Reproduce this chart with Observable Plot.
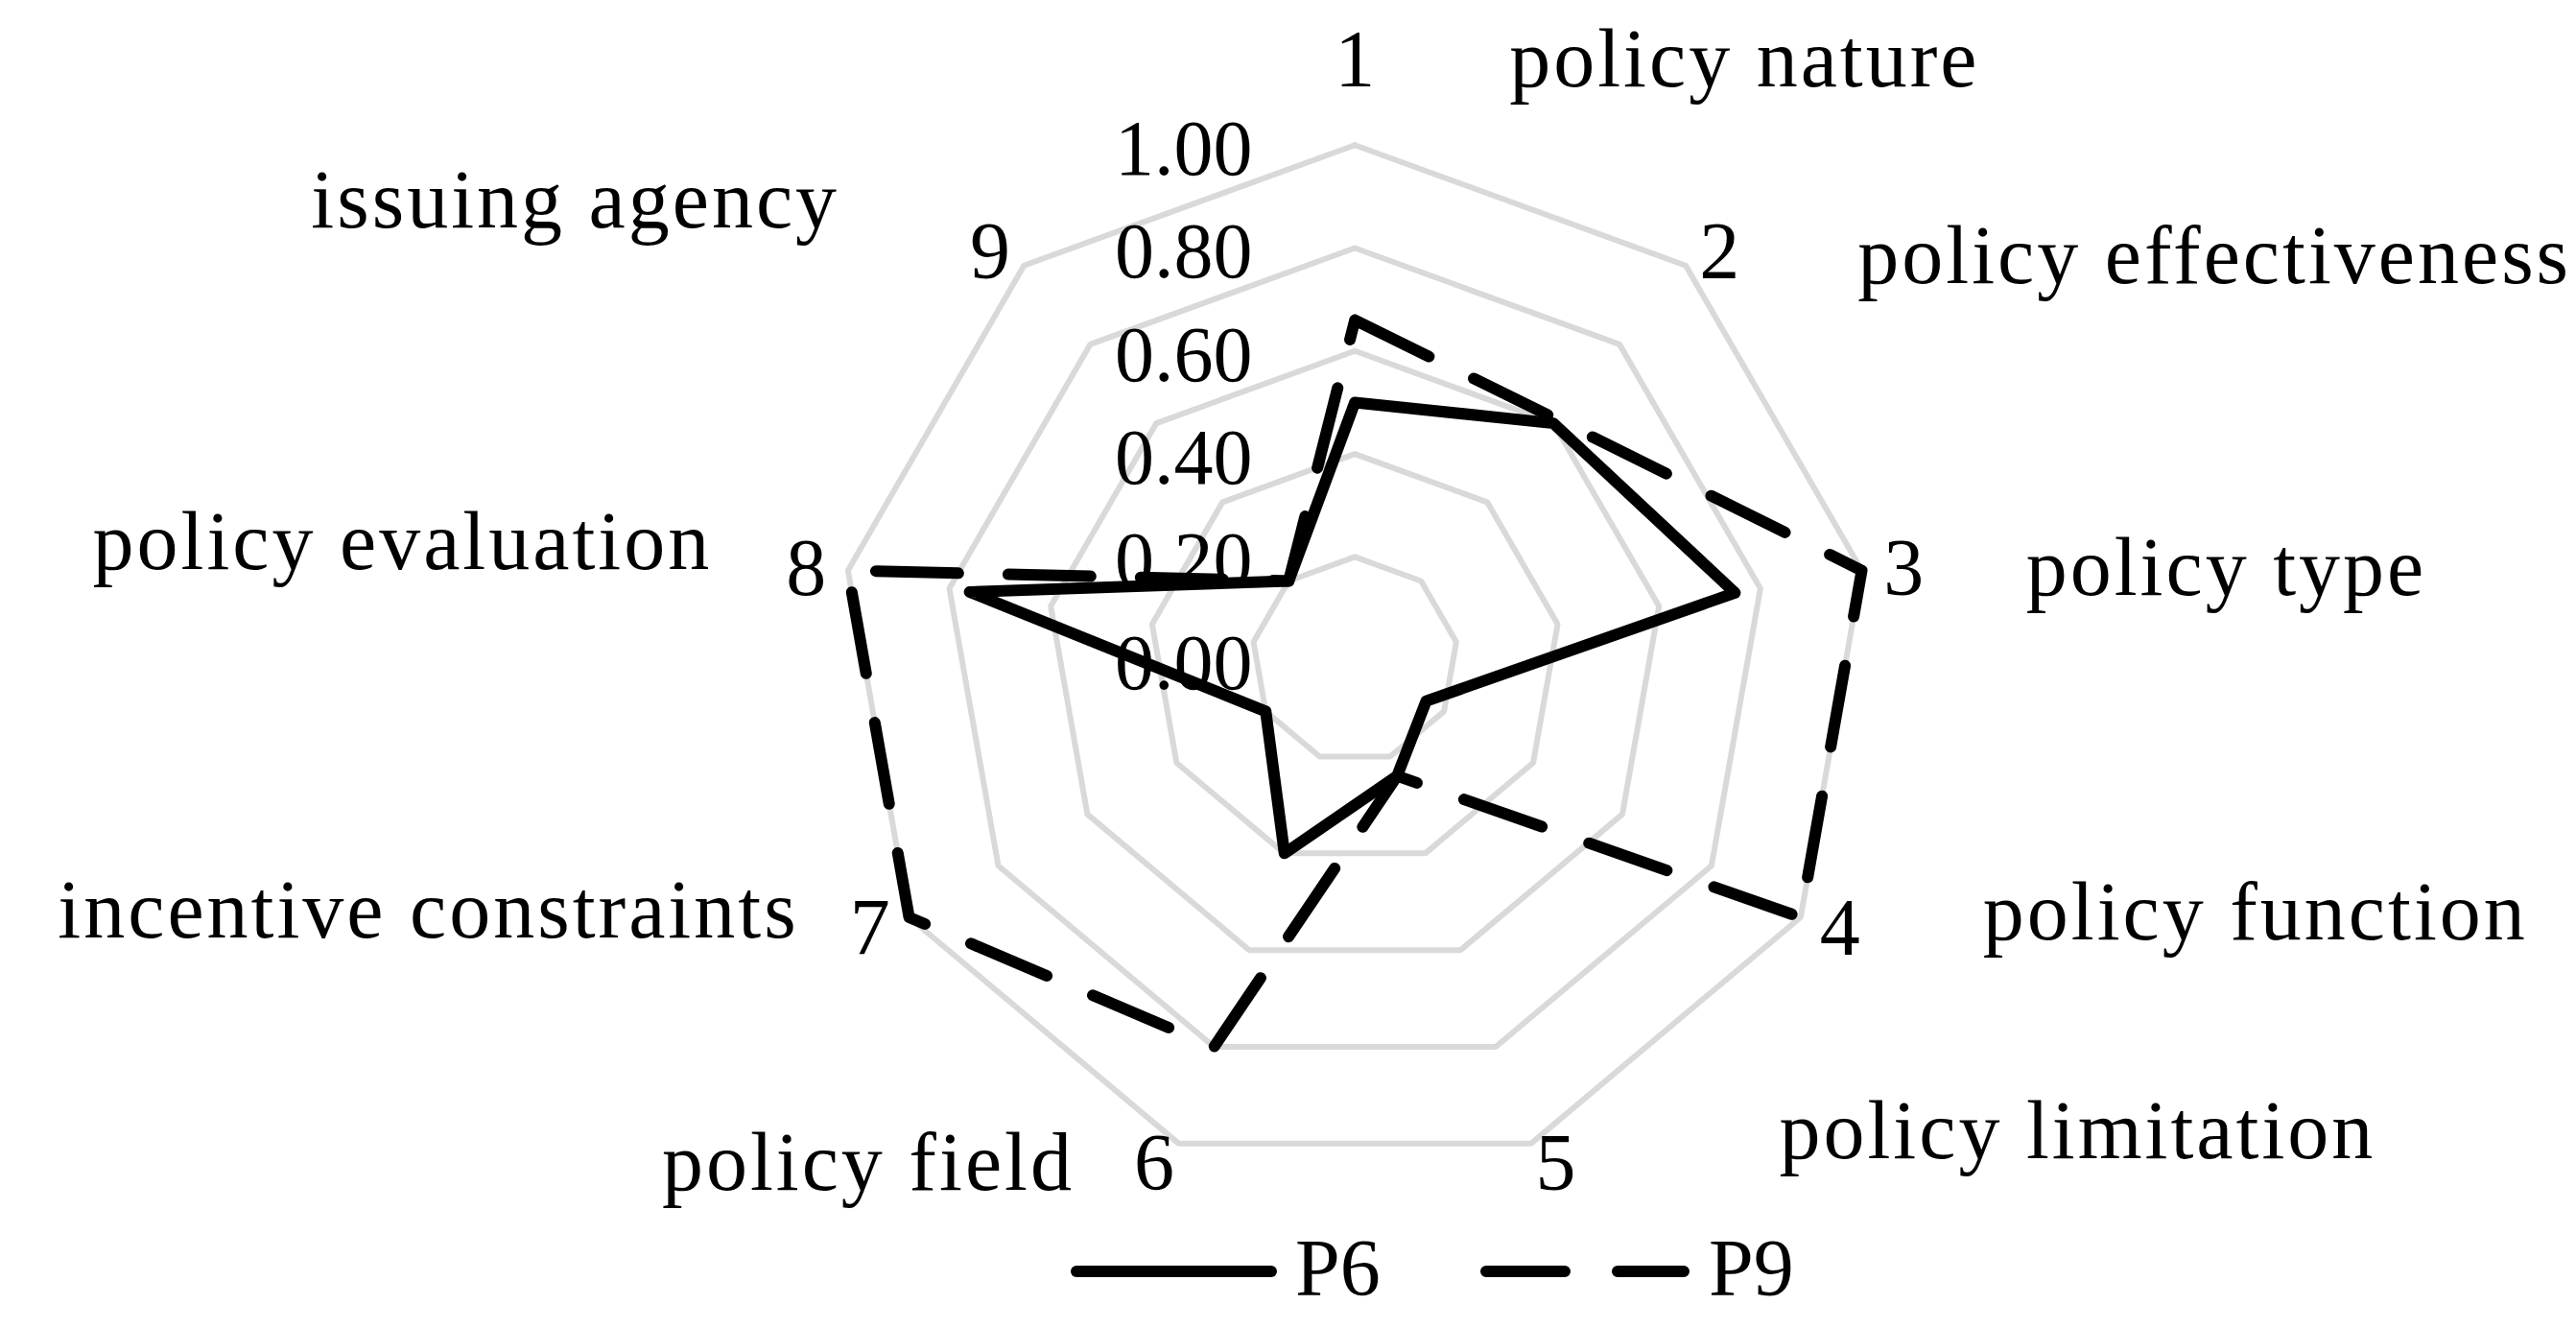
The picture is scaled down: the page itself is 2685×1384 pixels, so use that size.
<!DOCTYPE html>
<html>
<head>
<meta charset="utf-8">
<script src="https://cdn.jsdelivr.net/npm/d3@7"></script>
<script src="https://cdn.jsdelivr.net/npm/@observablehq/plot@0.6"></script>
<style>
  html, body { margin: 0; padding: 0; background: #fff; }
  body { width: 2685px; height: 1384px; overflow: hidden; font-family: "Liberation Serif", serif; }
  #legend { width: 2685px; height: 109px; }
</style>
</head>
<body>
<div id="chart"></div>
<div id="legend"></div>
<script>
// ---------- data ----------
const categories = ["1", "2", "3", "4", "5", "6", "7", "8", "9"];
const descriptions = ["policy nature", "policy effectiveness", "policy type", "policy function",
  "policy limitation", "policy field", "incentive constraints", "policy evaluation", "issuing agency"];
const seriesNames = ["P6", "P9"];
const p6 = [0.50, 0.60, 0.75, 0.16, 0.24, 0.40, 0.20, 0.76, 0.20];
const p9 = [0.66, 0.61, 1.00, 1.00, 0.24, 0.80, 1.00, 1.00, 0.20];
const ticks = [0, 0.2, 0.4, 0.6, 0.8, 1.0];
const tickLabels = ["0.00", "0.20", "0.40", "0.60", "0.80", "1.00"];

// ---------- layout ----------
const W = 2685, H = 1275, CX = 1411.7, CY = 687.2, R = 536.5;
const FS_NUM = 84, FS_TICK = 82, FS_DESC = 86, FS_LEG = 84;
const FONT = '"Liberation Serif", "Times New Roman", serif';
// description label nudges (px) relative to the category-number label: [dx, baseline dy]
const descNudge = [[161, 0], [144, 5], [127.5, 0], [149, -16], [233, -33], [-83, 0], [-74, -18], [-98, -27], [-157, -53]];

const n = categories.length;
const ang = i => i * 2 * Math.PI / n;
const px = (v, i) => v * Math.sin(ang(i));
const py = (v, i) => v * Math.cos(ang(i));

const gridRows = ticks.filter(t => t > 0).flatMap(t =>
  d3.range(n + 1).map(k => ({level: t, x: px(t, k % n), y: py(t, k % n)})));
const seriesRows = (vals, name) =>
  d3.range(n + 1).map(k => ({series: name, x: px(vals[k % n], k % n), y: py(vals[k % n], k % n)}));
const rowsP6 = seriesRows(p6, seriesNames[0]);
const rowsP9 = seriesRows(p9, seriesNames[1]);

const tickRows = ticks.map((t, i) => ({label: tickLabels[i], x: -106.7 / R, y: t - (2.5 + 0.345 * FS_TICK) / R}));

const labelOffset = i => {
  const s = Math.sin(ang(i)), c = Math.cos(ang(i));
  const sx = Math.abs(s) < 1e-9 ? 0 : Math.sign(s);
  return [44 * sx * Math.sqrt(Math.abs(s)), -20 * c - 70 * Math.pow(Math.max(c, 0), 20)];
};
const numRows = categories.map((c, i) => {
  const [ox, oy] = labelOffset(i);
  return {label: c, i, x: px(1, i) + ox / R, y: py(1, i) - (oy + 0.345 * FS_NUM) / R};
});
const descRows = descriptions.map((d, i) => ({
  label: d, i,
  x: numRows[i].x + descNudge[i][0] / R,
  y: numRows[i].y - descNudge[i][1] / R
}));

const chart = Plot.plot({
  width: W, height: H, margin: 0,
  x: {domain: [-CX / R, (W - CX) / R], axis: null},
  y: {domain: [-(H - CY) / R, CY / R], axis: null},
  style: {fontFamily: FONT, background: "#fff", color: "#000", overflow: "visible"},
  marks: [
    Plot.line(gridRows, {x: "x", y: "y", z: "level", stroke: "#d9d9d9", strokeWidth: 6, strokeLinejoin: "miter"}),
    Plot.text(tickRows, {x: "x", y: "y", text: "label", textAnchor: "end", lineAnchor: "bottom",
      fontSize: FS_TICK, fill: "#000"}),
    Plot.line(rowsP6, {x: "x", y: "y", stroke: "#000", strokeWidth: 12, strokeLinejoin: "round", strokeLinecap: "round"}),
    Plot.line(rowsP9, {x: "x", y: "y", stroke: "#000", strokeWidth: 12, strokeLinejoin: "round", strokeLinecap: "round",
      strokeDasharray: "86,52"}),
    Plot.text(numRows, {x: "x", y: "y", text: "label", textAnchor: "middle", lineAnchor: "bottom",
      fontSize: FS_NUM, fill: "#000"}),
    Plot.text(descRows.filter(d => d.i <= 4), {x: "x", y: "y", text: "label", textAnchor: "start", lineAnchor: "bottom",
      fontSize: FS_DESC, fill: "#000"}),
    Plot.text(descRows.filter(d => d.i > 4), {x: "x", y: "y", text: "label", textAnchor: "end", lineAnchor: "bottom",
      fontSize: FS_DESC, fill: "#000"})
  ]
});
d3.select(chart).selectAll("text")
  .filter(function() { return descriptions.includes(this.textContent); })
  .style("letter-spacing", "3px");
document.getElementById("chart").appendChild(chart);

// ---------- legend ----------
const leg = d3.select("#legend").append("svg").attr("width", W).attr("height", 109)
  .style("display", "block").style("font-family", FONT);
const legItems = [
  {name: seriesNames[0], x0: 1122, x1: 1325, dash: null, tx: 1350},
  {name: seriesNames[1], x0: 1549, x1: 1755, dash: "82,55", tx: 1781}
];
legItems.forEach(it => {
  leg.append("line").attr("x1", it.x0).attr("x2", it.x1).attr("y1", 50).attr("y2", 50)
    .attr("stroke", "#000").attr("stroke-width", 12).attr("stroke-linecap", "round")
    .attr("stroke-dasharray", it.dash);
  leg.append("text").attr("x", it.tx).attr("y", 75).attr("font-size", FS_LEG).attr("fill", "#000").text(it.name);
});
</script>
</body>
</html>
